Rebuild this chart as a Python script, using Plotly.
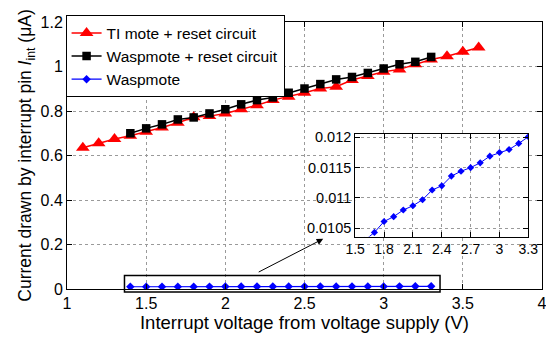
import plotly.graph_objects as go

# ---------------- data ----------------
ti_x = [1.1, 1.2, 1.3, 1.4, 1.5, 1.6, 1.7, 1.8, 1.9, 2.0, 2.1, 2.2, 2.3,
        2.4, 2.5, 2.6, 2.7, 2.8, 2.9, 3.0, 3.1, 3.2, 3.3, 3.4, 3.5, 3.6]
ti_y = [0.635, 0.655, 0.674, 0.689, 0.707, 0.726, 0.747, 0.772, 0.777, 0.789,
        0.808, 0.826, 0.849, 0.864, 0.882, 0.901, 0.909, 0.939, 0.957, 0.976,
        0.987, 1.010, 1.031, 1.046, 1.066, 1.085]

wr_x = [1.4, 1.5, 1.6, 1.7, 1.8, 1.9, 2.0, 2.1, 2.2, 2.3,
        2.4, 2.5, 2.6, 2.7, 2.8, 2.9, 3.0, 3.1, 3.2, 3.3]
wr_y = [0.700, 0.722, 0.740, 0.762, 0.771, 0.789, 0.808, 0.830, 0.849, 0.861,
        0.882, 0.901, 0.921, 0.942, 0.953, 0.971, 0.991, 1.010, 1.021, 1.043]

w_x = [1.4, 1.5, 1.6, 1.7, 1.8, 1.9, 2.0, 2.1, 2.2, 2.3,
       2.4, 2.5, 2.6, 2.7, 2.8, 2.9, 3.0, 3.1, 3.2, 3.3]
w_y = [0.0101, 0.0102, 0.0103, 0.01043, 0.01061, 0.01069, 0.01080, 0.01087,
       0.01097, 0.01113, 0.01120, 0.01136, 0.01144, 0.01150, 0.01158, 0.01169,
       0.01175, 0.01180, 0.01190, 0.01201]

names = ["TI mote + reset circuit", "Waspmote + reset circuit", "Waspmote"]

main_x_range = [1, 4]
main_y_range = [0, 1.2]
inset_x_range = [1.5, 3.3]
inset_y_range = [0.010362, 0.012055]
inset_y_ticks = [0.0105, 0.011, 0.0115, 0.012]
inset_y_ticktext = ["0.0105", "0.011", "0.0115", "0.012"]
inset_x_ticks = [1.5, 1.8, 2.1, 2.4, 2.7, 3.0, 3.3]
inset_x_ticktext = ["1.5", "1.8", "2.1", "2.4", "2.7", "3", "3.3"]

# zoom box around Waspmote series (data units)
box_x = [1.363, 3.356]
box_y = [-0.013, 0.061]

FONT = "Liberation Sans, Arial, Helvetica, sans-serif"

# ---------------- layout geometry ----------------
W, H = 546, 339
ML, MR, MT, MB = 66.5, 4, 21.7, 49.7


def px(xv):
    return (xv - main_x_range[0]) / (main_x_range[1] - main_x_range[0])


def py(yv):
    return (yv - main_y_range[0]) / (main_y_range[1] - main_y_range[0])


fig = go.Figure()

fig.add_trace(go.Scatter(
    x=ti_x, y=ti_y, name=names[0], mode="lines+markers",
    line=dict(color="#ff0000", width=1.5),
    marker=dict(symbol="triangle-up", size=12, color="#ff0000"),
    xaxis="x", yaxis="y"))
fig.add_trace(go.Scatter(
    x=wr_x, y=wr_y, name=names[1], mode="lines+markers",
    line=dict(color="#000000", width=1.5),
    marker=dict(symbol="square", size=8.5, color="#000000"),
    xaxis="x", yaxis="y"))
fig.add_trace(go.Scatter(
    x=w_x, y=w_y, name=names[2], mode="lines+markers",
    line=dict(color="#0000ff", width=1.2),
    marker=dict(symbol="diamond", size=6.5, color="#0000ff"),
    xaxis="x", yaxis="y"))
# inset
fig.add_trace(go.Scatter(
    x=w_x, y=w_y, name=names[2], mode="lines+markers", showlegend=False,
    line=dict(color="#0000ff", width=1),
    marker=dict(symbol="diamond", size=5.5, color="#0000ff"),
    xaxis="x2", yaxis="y2"))

axis_common = dict(
    showline=True, linecolor="black", linewidth=1, mirror="ticks",
    ticks="inside", ticklen=5, tickcolor="black",
    showgrid=True, gridcolor="#9a9a9a", griddash="dot", gridwidth=1,
    zeroline=False, ticklabeloverflow="allow",
)

fig.update_layout(
    width=W, height=H,
    margin=dict(l=ML, r=MR, t=MT, b=MB, autoexpand=False),
    paper_bgcolor="white", plot_bgcolor="white",
    font=dict(family=FONT, color="black"),
    xaxis=dict(
        **axis_common, range=main_x_range, dtick=0.5, tick0=1,
        domain=[0, 1], anchor="y",
        tickfont=dict(size=16),
        title=dict(text="Interrupt voltage from voltage supply (V)",
                   font=dict(size=18.5), standoff=4),
    ),
    yaxis=dict(
        **axis_common, range=main_y_range, dtick=0.2, tick0=0,
        domain=[0, 1], anchor="x",
        tickfont=dict(size=16),
        title=dict(text="Current drawn by interrupt pin <i>I</i><sub>int</sub> (\u03bcA)",
                   font=dict(size=17.5), standoff=4),
    ),
    xaxis2=dict(
        **axis_common, range=inset_x_range, anchor="y2",
        domain=[0.6067, 0.9712],
        tickvals=inset_x_ticks, ticktext=inset_x_ticktext,
        tickfont=dict(size=14),
    ),
    yaxis2=dict(
        **axis_common, range=inset_y_range, anchor="x2",
        domain=[0.1966, 0.5803],
        tickvals=inset_y_ticks, ticktext=inset_y_ticktext,
        tickfont=dict(size=14.5),
    ),
    legend=dict(
        x=-0.003, y=1.025, xanchor="left", yanchor="top",
        bgcolor="white", bordercolor="black", borderwidth=1,
        font=dict(size=15.5), tracegroupgap=0, itemwidth=30,
    ),
    showlegend=True,
)

# zoom rectangle
fig.add_shape(
    type="rect", xref="paper", yref="paper",
    x0=px(box_x[0]), x1=px(box_x[1]), y0=py(box_y[0]), y1=py(box_y[1]),
    line=dict(color="black", width=1.5), fillcolor="rgba(0,0,0,0)",
    layer="above",
)

# arrow from the box to the inset
fig.add_annotation(
    xref="paper", yref="paper", x=0.5394, y=0.188,
    ax=-66, ay=34, axref="pixel", ayref="pixel",
    text="", showarrow=True, arrowhead=2, arrowsize=1.3, arrowwidth=1,
    arrowcolor="black",
)

fig.write_html("out.html")
